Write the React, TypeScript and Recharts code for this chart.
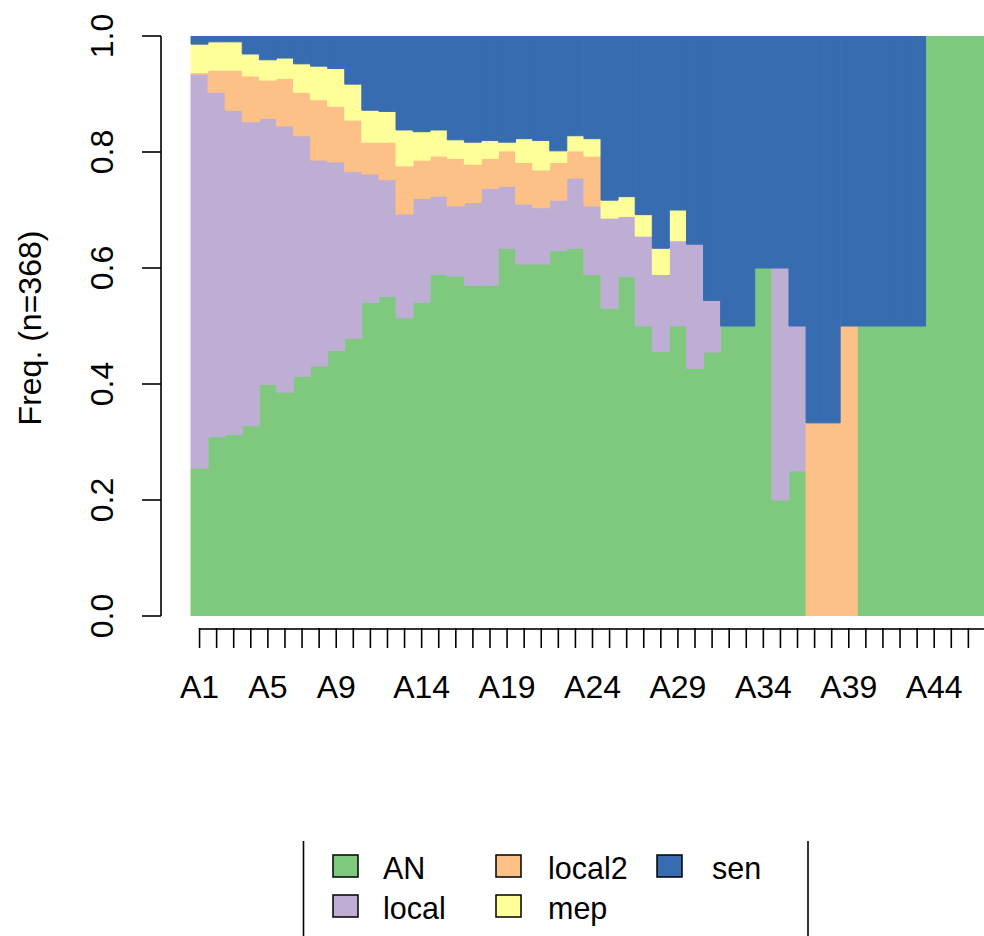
import React from "react";
import { Bar, BarChart, Label, XAxis, YAxis } from "recharts";

const CATEGORIES = [
  "A1", "A2", "A3", "A4", "A5", "A6", "A7", "A8", "A9", "A10",
  "A11", "A12", "A13", "A14", "A15", "A16", "A17", "A18", "A19", "A20",
  "A21", "A22", "A23", "A24", "A25", "A26", "A27", "A28", "A29", "A30",
  "A31", "A32", "A33", "A34", "A35", "A36", "A37", "A38", "A39", "A40",
  "A41", "A42", "A43", "A44", "A45", "A46", "A47",
];

// state shares per position, bottom to top
const AN = [
  0.255, 0.309, 0.313, 0.328, 0.399, 0.386, 0.413, 0.431, 0.458, 0.479,
  0.541, 0.551, 0.514, 0.541, 0.589, 0.586, 0.57, 0.57, 0.634, 0.607,
  0.607, 0.63, 0.634, 0.589, 0.53, 0.585, 0.5, 0.456, 0.5, 0.427,
  0.455, 0.5, 0.5, 0.6, 0.2, 0.25, 0, 0, 0, 0.5,
  0.5, 0.5, 0.5, 1, 1, 1, 1,
];
const LOCAL = [
  0.679, 0.594, 0.559, 0.524, 0.459, 0.459, 0.415, 0.355, 0.325, 0.287,
  0.221, 0.201, 0.179, 0.179, 0.135, 0.121, 0.143, 0.167, 0.107, 0.103,
  0.097, 0.087, 0.121, 0.118, 0.156, 0.104, 0.155, 0.133, 0.147, 0.214,
  0.089, 0, 0, 0, 0.4, 0.25, 0, 0, 0, 0,
  0, 0, 0, 0, 0, 0, 0,
];
const LOCAL2 = [
  0.003, 0.038, 0.069, 0.079, 0.066, 0.082, 0.075, 0.104, 0.096, 0.089,
  0.055, 0.065, 0.083, 0.066, 0.069, 0.082, 0.066, 0.052, 0.061, 0.072,
  0.065, 0.065, 0.047, 0.086, 0, 0, 0, 0, 0, 0,
  0, 0, 0, 0, 0, 0, 0.333, 0.333, 0.5, 0,
  0, 0, 0, 0, 0, 0, 0,
];
const MEP = [
  0.049, 0.049, 0.049, 0.038, 0.035, 0.035, 0.049, 0.058, 0.065, 0.062,
  0.055, 0.053, 0.062, 0.049, 0.045, 0.032, 0.038, 0.031, 0.015, 0.041,
  0.051, 0.02, 0.026, 0.03, 0.031, 0.034, 0.037, 0.045, 0.053, 0,
  0, 0, 0, 0, 0, 0, 0, 0, 0, 0,
  0, 0, 0, 0, 0, 0, 0,
];
const SEN = [
  0.014, 0.01, 0.01, 0.031, 0.041, 0.038, 0.048, 0.052, 0.056, 0.083,
  0.128, 0.13, 0.162, 0.165, 0.162, 0.179, 0.183, 0.18, 0.183, 0.177,
  0.18, 0.198, 0.172, 0.177, 0.283, 0.277, 0.308, 0.366, 0.3, 0.359,
  0.456, 0.5, 0.5, 0.4, 0.4, 0.5, 0.667, 0.667, 0.5, 0.5,
  0.5, 0.5, 0.5, 0, 0, 0, 0,
];

const STATES = [
  { key: "AN", color: "#7FC97F", values: AN },
  { key: "local", color: "#BEAED4", values: LOCAL },
  { key: "local2", color: "#FDC086", values: LOCAL2 },
  { key: "mep", color: "#FFFF99", values: MEP },
  { key: "sen", color: "#386CB0", values: SEN },
];

// legend is laid out column-wise like R's legend(ncol = 3)
const LEGEND_COLUMNS = [["AN", "local"], ["local2", "mep"], ["sen"]];

const Y_TICKS = [0, 0.2, 0.4, 0.6, 0.8, 1];
const X_LABELS = ["A1", "A5", "A9", "A14", "A19", "A24", "A29", "A34", "A39", "A44"];

const data = CATEGORIES.map((name, i) => {
  const row: Record<string, number | string> = { name };
  STATES.forEach((s) => (row[s.key] = s.values[i]));
  return row;
});

const FONT = "'Liberation Sans', Arial, Helvetica, sans-serif";
const CHART_W = 1000;
const CHART_H = 936;
const Y_AXIS_W = 161;
const PAD_LEFT = 30;
const MARGIN_RIGHT = 6;
const BAND = (CHART_W - Y_AXIS_W - MARGIN_RIGHT - PAD_LEFT) / CATEGORIES.length;

function XTick(props: any) {
  const { x, y, payload } = props;
  const idx = CATEGORIES.indexOf(payload.value);
  const last = idx === CATEGORIES.length - 1;
  return (
    <g>
      {!last && <line x1={x} x2={x + BAND} y1={y + 13} y2={y + 13} stroke="#000" strokeWidth={1.6} />}
      <line x1={x} x2={x} y1={y + 12} y2={y + 32} stroke="#000" strokeWidth={1.6} />
      {X_LABELS.includes(payload.value) && (
        <text x={x} y={y + 82} textAnchor="middle" fontSize={32} fontFamily={FONT} fill="#000">
          {payload.value}
        </text>
      )}
    </g>
  );
}

function YTick(props: any) {
  const { x, y, payload } = props;
  const tx = x - 48;
  return (
    <g>
      <line x1={x - 19} x2={x} y1={y} y2={y} stroke="#000" strokeWidth={1.6} />
      <text
        x={tx}
        y={y}
        transform={`rotate(-90, ${tx}, ${y})`}
        textAnchor="middle"
        fontSize={32}
        fontFamily={FONT}
        fill="#000"
      >
        {payload.value.toFixed(1)}
      </text>
    </g>
  );
}

function YLabel(props: any) {
  const vb = props.viewBox || { x: 0, y: 36, width: Y_AXIS_W, height: 580 };
  const lx = vb.x + 41;
  const ly = vb.y + vb.height / 2 + 2;
  return (
    <text
      x={lx}
      y={ly}
      transform={`rotate(-90, ${lx}, ${ly})`}
      textAnchor="middle"
      fontSize={32}
      fontFamily={FONT}
      fill="#000"
    >
      Freq. (n=368)
    </text>
  );
}

function StateLegend() {
  const colX = [333, 496, 657];
  const textX = [383, 548, 712];
  const rowY = [855, 895];
  return (
    <svg width={984} height={936} style={{ position: "absolute", left: 0, top: 0, pointerEvents: "none" }}>
      <line x1={303.5} x2={303.5} y1={841} y2={936} stroke="#000" strokeWidth={1.6} />
      <line x1={808} x2={808} y1={841} y2={936} stroke="#000" strokeWidth={1.6} />
      {LEGEND_COLUMNS.map((col, c) =>
        col.map((key, r) => {
          const s = STATES.find((st) => st.key === key)!;
          return (
            <g key={key}>
              <rect x={colX[c]} y={rowY[r]} width={25} height={22} fill={s.color} stroke="#000" strokeWidth={1.5} />
              <text x={textX[c]} y={rowY[r] + 24} fontSize={30.5} fontFamily={FONT} fill="#000">
                {key}
              </text>
            </g>
          );
        })
      )}
    </svg>
  );
}

export default function App() {
  return (
    <div style={{ position: "absolute", left: 0, top: 0, width: 984, height: 936, overflow: "hidden", background: "#fff" }}>
      <BarChart
        width={CHART_W}
        height={CHART_H}
        data={data}
        barCategoryGap={0}
        barGap={0}
        margin={{ top: 36, right: MARGIN_RIGHT, bottom: 220, left: 0 }}
      >
        <XAxis
          dataKey="name"
          type="category"
          padding={{ left: PAD_LEFT, right: 0 }}
          axisLine={false}
          tickLine={false}
          tickSize={0}
          tickMargin={0}
          interval={0}
          height={100}
          tick={<XTick />}
        />
        <YAxis
          type="number"
          domain={[0, 1]}
          ticks={Y_TICKS}
          allowDataOverflow
          width={Y_AXIS_W}
          axisLine={{ stroke: "#000", strokeWidth: 1.6 }}
          tickLine={false}
          tickSize={0}
          tickMargin={0}
          tick={<YTick />}
        >
          <Label content={<YLabel />} />
        </YAxis>
        {STATES.map((s) => (
          <Bar
            key={s.key}
            dataKey={s.key}
            stackId="a"
            fill={s.color}
            stroke={s.color}
            strokeWidth={1}
            isAnimationActive={false}
          />
        ))}
      </BarChart>
      <StateLegend />
    </div>
  );
}
